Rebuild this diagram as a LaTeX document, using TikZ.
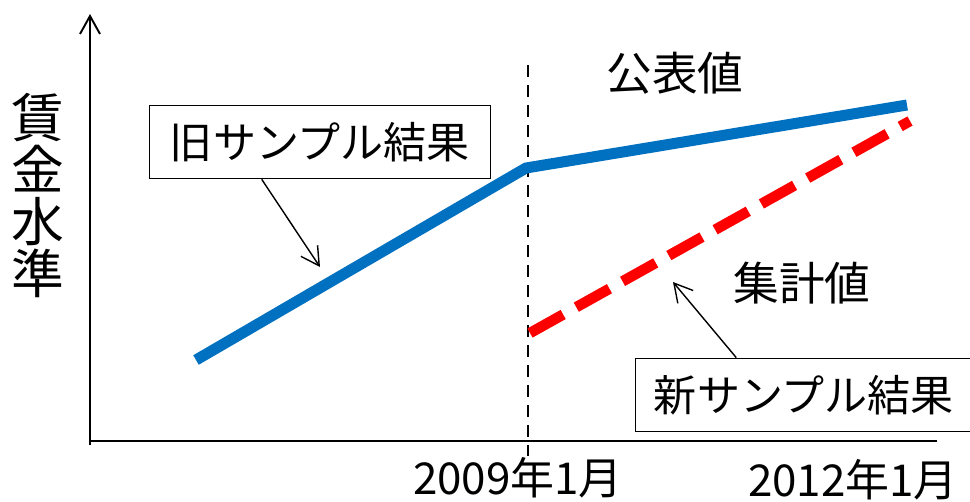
\documentclass[tikz,border=0pt]{standalone}
\usepackage{fontspec}
\setmainfont{Noto Sans CJK JP}
\usetikzlibrary{arrows.meta, positioning, calc}

\begin{document}
\begin{tikzpicture} [x = 0.02cm, y = -0.02cm, >= {Straight Barb[length=3.6mm, width=4mm]}, line width = 1.1pt,
  callout/.style = {draw, line width = 1pt, inner sep = 0pt, minimum height = 1.46cm, font = \fontsize{24.5}{28}\selectfont},
  lbl/.style = {inner sep = 0pt, font = \fontsize{26}{30}\selectfont},
  datelbl/.style = {inner sep = 0pt, font = \fontsize{25}{30}\selectfont}]

\useasboundingbox (0,0) rectangle (970,501);

% axes
\coordinate (o) at (90,441);
\coordinate (ytop) at (90,14);
\coordinate (xend) at (937,441);
\draw [->] ($(o)+(0,4)$) -- (ytop);
\draw (o) -- (xend);

\node [inner sep = 0pt, align = center, font = \fontsize{30}{29.6}\selectfont] (ylabel) at (38,195) {賃\\金\\水\\準};

% switch date
\coordinate (dtop) at (528,65);
\coordinate (dbot) at (528,456);
\draw [dashed, dash pattern = on 0.24cm off 0.16cm, line width = 1.3pt] (dtop) -- (dbot);

\node [datelbl] (d2009) at (518,478) {2009年1月};
\node [datelbl] (d2012) at (853,480) {2012年1月};

% lines
\coordinate (b0) at (196,360);
\coordinate (b1) at (526,168);
\coordinate (b2) at (907,105);
\draw [line width = 11pt*0.57, color = {rgb,255:red,0;green,112;blue,192}] (b0) -- (b1) -- (b2);

\coordinate (r0) at (530,333);
\coordinate (r1) at (910,121);
\draw [line width = 10.5pt*0.57, color = red, dash pattern = on 0.76cm off 0.3cm] (r0) -- (r1);

\node [lbl] (pub) at (675,73) {公表値};
\node [lbl] (agg) at (802,283) {集計値};

% callouts
\node [callout, minimum width = 6.82cm] (oldbox) at (320,142) {旧サンプル結果};
\node [callout, minimum width = 6.74cm] (newbox) at (804,395) {新サンプル結果};

\coordinate (oldtip) at (320,267);
\coordinate (newtip) at (673,282);
\draw [->, line width = 0.8pt] ($(oldbox.south west)!0.33!(oldbox.south east)$) -- (oldtip);
\draw [->, line width = 0.8pt] ($(newbox.north west)!0.30!(newbox.north east)$) -- (newtip);

\end{tikzpicture}
\end{document}
